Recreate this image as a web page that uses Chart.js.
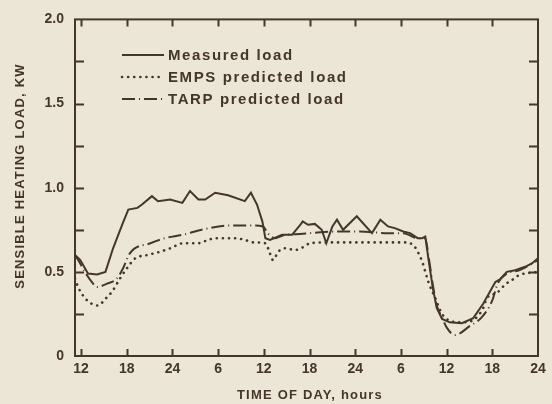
<!DOCTYPE html>
<html>
<head>
<meta charset="utf-8">
<script src="https://cdn.jsdelivr.net/npm/chart.js@4"></script>
<style>
  html, body { margin: 0; padding: 0; background: #ebe6d5; }
  #wrap { width: 552px; height: 404px; }
</style>
</head>
<body>
<div id="wrap"><canvas id="loadChart" width="552" height="404"></canvas></div>
<script>
// hours counted from the first noon on the axis
const tickHours = [0, 6, 12, 18, 24, 30, 36, 42, 48, 54, 60];
const tickLabels = ['12', '18', '24', '6', '12', '18', '24', '6', '12', '18', '24'];

const measuredHours = [-0.8, -0.1, 0.9, 2.1, 3.2, 4.2, 5.4, 6.2, 7.4, 8.0, 9.3, 10.1, 11.7, 13.3, 14.3, 15.4, 16.3, 17.6, 19.3, 21.5, 22.3, 23.1, 23.8, 24.2, 24.8, 26.4, 27.7, 28.8, 29.1, 29.8, 30.7, 31.6, 32.2, 33.0, 33.6, 34.4, 36.2, 38.2, 39.3, 40.3, 41.2, 42.3, 43.2, 44.2, 44.8, 45.2, 45.6, 46.2, 46.7, 47.4, 48.4, 50.0, 51.5, 52.8, 54.4, 55.0, 55.9, 57.0, 58.3, 59.2, 60.0];
const measuredLoad = [0.60, 0.57, 0.49, 0.485, 0.50, 0.64, 0.78, 0.87, 0.88, 0.90, 0.95, 0.92, 0.93, 0.91, 0.98, 0.93, 0.93, 0.97, 0.955, 0.92, 0.97, 0.90, 0.80, 0.70, 0.69, 0.72, 0.72, 0.78, 0.80, 0.78, 0.785, 0.75, 0.67, 0.77, 0.81, 0.75, 0.83, 0.73, 0.81, 0.77, 0.76, 0.74, 0.73, 0.70, 0.70, 0.71, 0.58, 0.40, 0.285, 0.22, 0.20, 0.195, 0.225, 0.31, 0.44, 0.455, 0.50, 0.51, 0.53, 0.55, 0.58];

const empsHours = [-0.8, -0.4, 0.5, 1.4, 2.2, 3.2, 4.1, 5.1, 6.0, 7.1, 8.7, 10.4, 11.7, 13.4, 15.4, 16.7, 17.6, 20.2, 21.5, 22.6, 24.2, 24.8, 25.2, 25.9, 26.8, 28.1, 29.1, 30.1, 32.3, 37.5, 42.8, 43.8, 44.2, 44.8, 45.2, 45.6, 46.5, 47.4, 48.4, 50.0, 51.7, 52.8, 53.3, 54.6, 55.7, 56.7, 57.5, 60.0];
const empsLoad = [0.46, 0.41, 0.345, 0.31, 0.30, 0.34, 0.385, 0.46, 0.52, 0.58, 0.60, 0.62, 0.64, 0.67, 0.67, 0.69, 0.70, 0.70, 0.69, 0.675, 0.67, 0.61, 0.57, 0.62, 0.64, 0.63, 0.645, 0.67, 0.675, 0.675, 0.675, 0.65, 0.62, 0.56, 0.50, 0.44, 0.345, 0.25, 0.21, 0.20, 0.22, 0.285, 0.345, 0.375, 0.425, 0.455, 0.48, 0.50];

const tarpHours = [-0.8, -0.5, 0.5, 1.4, 2.1, 3.4, 4.7, 5.5, 6.4, 9.1, 11.0, 13.3, 16.3, 19.3, 22.4, 23.9, 24.5, 25.5, 26.8, 28.8, 31.4, 34.0, 36.6, 40.3, 42.3, 44.2, 45.2, 45.6, 46.2, 46.7, 47.4, 48.0, 49.1, 51.1, 52.6, 54.0, 54.7, 55.9, 57.6, 60.0];
const tarpLoad = [0.60, 0.58, 0.50, 0.44, 0.41, 0.43, 0.46, 0.52, 0.61, 0.67, 0.70, 0.72, 0.755, 0.775, 0.775, 0.77, 0.73, 0.70, 0.72, 0.725, 0.735, 0.74, 0.74, 0.73, 0.73, 0.70, 0.70, 0.60, 0.42, 0.30, 0.23, 0.17, 0.125, 0.18, 0.23, 0.33, 0.43, 0.49, 0.51, 0.57];

const seriesNames = ['Measured load', 'EMPS predicted load', 'TARP predicted load'];

const ink = '#45362d';
const paper = '#ebe6d5';
const dashes = [[], [0.1, 6], [13, 4, 1, 4]];
const fontFamily = '"Liberation Sans", Arial, sans-serif';

const toPoints = (xs, ys) => xs.map((h, i) => ({ x: h, y: ys[i] }));

// frame, inward ticks, titles and legend
const paperPlugin = {
  id: 'paper',
  beforeDraw(chart) {
    const ctx = chart.ctx;
    ctx.save();
    ctx.fillStyle = paper;
    ctx.fillRect(0, 0, chart.width, chart.height);
    ctx.restore();
  },
  afterDraw(chart) {
    const { ctx, chartArea: a, scales: { x, y } } = chart;
    ctx.save();
    ctx.strokeStyle = ink;
    ctx.lineWidth = 2;
    ctx.strokeRect(a.left, a.top, a.right - a.left, a.bottom - a.top);

    ctx.beginPath();
    tickHours.forEach(v => {
      const px = Math.round(x.getPixelForValue(v)) + 0.5;
      if (px > a.right - 2) return;
      ctx.moveTo(px, a.bottom); ctx.lineTo(px, a.bottom - 7);
      ctx.moveTo(px, a.top); ctx.lineTo(px, a.top + 7);
    });
    y.ticks.forEach(t => {
      const py = Math.round(y.getPixelForValue(t.value)) + 0.5;
      if (py < a.top + 2 || py > a.bottom - 2) return;
      ctx.moveTo(a.left, py); ctx.lineTo(a.left + 9, py);
      ctx.moveTo(a.right, py); ctx.lineTo(a.right - 9, py);
    });
    ctx.stroke();

    // legend
    ctx.fillStyle = ink;
    ctx.font = 'bold 15px ' + fontFamily;
    ctx.letterSpacing = '1.6px';
    ctx.textBaseline = 'middle';
    const rows = [55, 77, 99];
    chart.data.datasets.forEach((ds, i) => {
      ctx.beginPath();
      ctx.lineWidth = ds.borderWidth;
      ctx.lineCap = ds.borderCapStyle || 'butt';
      ctx.setLineDash(dashes[i]);
      ctx.moveTo(122, rows[i]);
      ctx.lineTo(164, rows[i]);
      ctx.stroke();
      ctx.setLineDash([]);
      ctx.fillText(ds.label, 168, rows[i] + 1);
    });

    // axis titles
    ctx.font = 'bold 13px ' + fontFamily;
    ctx.letterSpacing = '1.2px';
    ctx.textAlign = 'center';
    ctx.fillText('TIME OF DAY, hours', 310, 395);
    ctx.translate(20, 176);
    ctx.rotate(-Math.PI / 2);
    ctx.fillText('SENSIBLE HEATING LOAD, KW', 0, 0);
    ctx.restore();
  }
};

new Chart(document.getElementById('loadChart'), {
  type: 'line',
  data: {
    datasets: [
      {
        label: seriesNames[0],
        data: toPoints(measuredHours, measuredLoad),
        borderColor: ink,
        borderWidth: 2,
        pointRadius: 0,
        tension: 0
      },
      {
        label: seriesNames[1],
        data: toPoints(empsHours, empsLoad),
        borderColor: ink,
        borderWidth: 2.6,
        borderDash: dashes[1],
        borderCapStyle: 'round',
        pointRadius: 0,
        cubicInterpolationMode: 'monotone'
      },
      {
        label: seriesNames[2],
        data: toPoints(tarpHours, tarpLoad),
        borderColor: ink,
        borderWidth: 2,
        borderDash: dashes[2],
        pointRadius: 0,
        cubicInterpolationMode: 'monotone'
      }
    ]
  },
  options: {
    responsive: false,
    animation: false,
    layout: { padding: { top: 15, right: 14 } },
    plugins: {
      legend: { display: false },
      tooltip: { enabled: false }
    },
    scales: {
      x: {
        type: 'linear',
        min: -0.8,
        max: 60,
        afterBuildTicks: scale => { scale.ticks = tickHours.map(v => ({ value: v })); },
        afterFit: scale => { scale.height = 48; },
        grid: { display: false, drawTicks: false },
        border: { display: false },
        ticks: {
          autoSkip: false,
          maxRotation: 0,
          padding: 5,
          color: ink,
          font: { family: fontFamily, size: 14, weight: 'bold' },
          callback: (v, i) => tickLabels[i]
        }
      },
      y: {
        min: 0,
        max: 2,
        afterFit: scale => { scale.width = 75; },
        grid: { display: false, drawTicks: false },
        border: { display: false },
        ticks: {
          stepSize: 0.25,
          padding: 11,
          color: ink,
          font: { family: fontFamily, size: 14, weight: 'bold' },
          callback: v => {
            if (Math.abs(v * 2 - Math.round(v * 2)) > 1e-6) return '';
            return v === 0 ? '0' : v.toFixed(1);
          }
        }
      }
    }
  },
  plugins: [paperPlugin]
});
</script>
</body>
</html>
